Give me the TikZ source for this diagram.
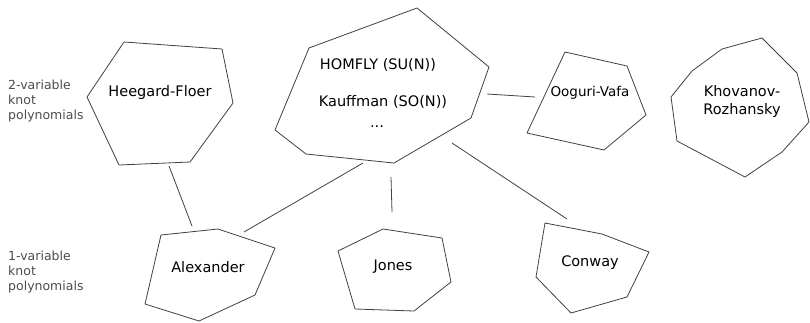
\documentclass[tikz,border=0pt]{standalone}
\usepackage{fontspec}
\setmainfont{DejaVu Sans}
\begin{document}
\begin{tikzpicture}[x=1pt,y=-1pt,
  poly/.style={draw=black!75,line width=0.8pt,line join=round},
  conn/.style={draw=black!75,line width=0.8pt},
  lbl/.style={font=\fontsize{14.5}{17}\selectfont,inner sep=0pt,align=center},
  side/.style={font=\fontsize{12.5}{15}\selectfont,text=black!70,inner sep=0pt,anchor=west,align=left}]
\useasboundingbox (0,0) rectangle (810,322);
% polygons
\draw[poly] (124,42) -- (222,49) -- (233,103) -- (190,162) -- (119,165) -- (87,97) -- cycle;
\draw[poly] (161,235) -- (218,229) -- (275,248) -- (255,295) -- (199,321) -- (145,304) -- cycle;
\draw[poly] (309,48) -- (417,8) -- (489,67) -- (471,118) -- (394,163) -- (306,154) -- (275,130) -- cycle;
\draw[poly] (383,229) -- (442,238) -- (451,282) -- (414,311) -- (355,309) -- (338,251) -- cycle;
\draw[poly] (545,223) -- (602,234) -- (649,252) -- (627,297) -- (571,313) -- (536,277) -- cycle;
\draw[poly] (565,52) -- (627,66) -- (646,115) -- (604,150) -- (527,133) -- cycle;
\draw[poly] (762,38) -- (797,73) -- (809,122) -- (782,152) -- (745,177) -- (677,141) -- (671,97) -- (692,71) -- (722,49) -- cycle;
% texts
\node[lbl] (hf) at (160,92) {Heegard-Floer};
\node[lbl] (al) at (208,267) {Alexander};
\node[lbl] (homfly) at (378,65) {HOMFLY (SU(N))};
\node[lbl] (kauf) at (383,102) {Kauffman (SO(N))};
\node[lbl] (dots) at (377,127) {...};
\node[lbl] (jo) at (393,267) {Jones};
\node[lbl] (co) at (590,263) {Conway};
\node[lbl,font=\fontsize{13.5}{16}\selectfont] (ov) at (590,93) {Ooguri-Vafa};
\node[lbl] (kr) at (742,101) {Khovanov-\\[1pt]Rozhansky};
\node[side] (two) at (8,101) {2-variable\\knot\\polynomials};
\node[side] (one) at (8,272) {1-variable\\knot\\polynomials};
% connector ends
\coordinate (a1) at (169,166); \coordinate (a2) at (192,226);
\coordinate (b1) at (244,232); \coordinate (b2) at (363,163);
\coordinate (c1) at (391,177); \coordinate (c2) at (392,212);
\coordinate (d1) at (452,143); \coordinate (d2) at (567,219);
\coordinate (e1) at (487,94);  \coordinate (e2) at (535,97);
\draw[conn] (a1) -- (a2);
\draw[conn] (b1) -- (b2);
\draw[conn] (c1) -- (c2);
\draw[conn] (d1) -- (d2);
\draw[conn] (e1) -- (e2);
\end{tikzpicture}
\end{document}
